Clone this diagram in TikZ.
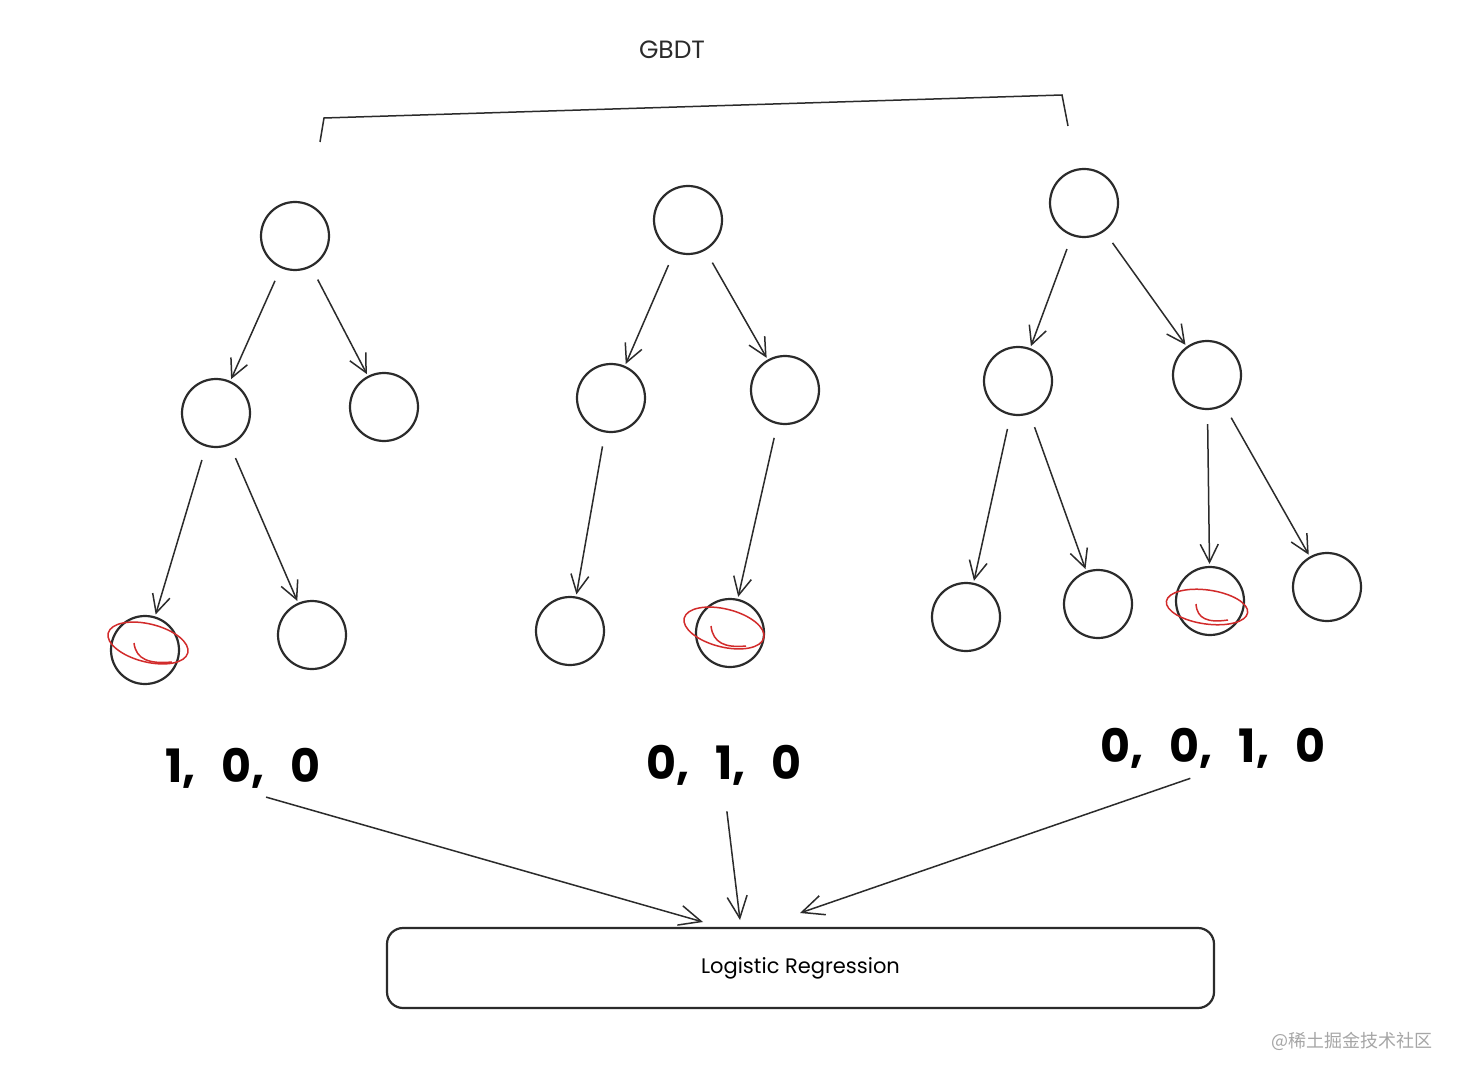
\documentclass[tikz,border=0pt]{standalone}
\usepackage{fontspec}
\newfontfamily\hand{Poppins}
\newfontfamily\cjk{Noto Sans CJK SC}
\usetikzlibrary{arrows.meta}
\definecolor{ink}{HTML}{2B2B2B}
\definecolor{mark}{HTML}{D22B2B}
\newcommand{\gapv}{,\hspace{8pt} }
\begin{document}
\begin{tikzpicture}[x=0.5pt,y=-0.5pt,
  tnode/.style={circle,draw=ink,line width=1.1pt,minimum size=34pt,inner sep=0pt},
  edge/.style={draw=ink,line width=0.75pt,-{Straight Barb[length=9pt,width=9pt]},shorten <=7pt,shorten >=1pt},
  bigedge/.style={draw=ink,line width=0.75pt,-{Straight Barb[length=11pt,width=10pt]},shorten <=12pt},
  pick/.style={draw=mark,line width=0.75pt},
  vec/.style={font=\hand\bfseries\fontsize{23}{26}\selectfont,text=black,inner sep=1pt},
  lbl/.style={font=\hand\fontsize{10.5}{12}\selectfont,text=black}]
\useasboundingbox[fill=white] (0,0) rectangle (1460,1080);

% title and bracket
\node[font=\hand\fontsize{12.5}{14}\selectfont,text=ink] (title) at (672,50) {GBDT};
\coordinate (bl) at (320,142);
\coordinate (tl) at (324,118);
\coordinate (tr) at (1062,95);
\coordinate (br) at (1068,126);
\draw[ink,line width=0.75pt] (bl) -- (tl) -- (tr) -- (br);

% tree 1
\node[tnode] (a0) at (295,236) {};
\node[tnode] (a1) at (216,413) {};
\node[tnode] (a2) at (384,407) {};
\node[tnode] (a3) at (145,650) {};
\node[tnode] (a4) at (312,635) {};
\draw[edge] (a0) -- (a1);
\draw[edge] (a0) -- (a2);
\draw[edge] (a1) -- (a3);
\draw[edge] (a1) -- (a4);

% tree 2
\node[tnode] (b0) at (688,220) {};
\node[tnode] (b1) at (611,398) {};
\node[tnode] (b2) at (785,390) {};
\node[tnode] (b3) at (570,631) {};
\node[tnode] (b4) at (730,633) {};
\draw[edge] (b0) -- (b1);
\draw[edge] (b0) -- (b2);
\draw[edge] (b1) -- (b3);
\draw[edge] (b2) -- (b4);

% tree 3
\node[tnode] (c0) at (1084,203) {};
\node[tnode] (c1) at (1018,381) {};
\node[tnode] (c2) at (1207,375) {};
\node[tnode] (c3) at (966,617) {};
\node[tnode] (c4) at (1098,604) {};
\node[tnode] (c5) at (1210,601) {};
\node[tnode] (c6) at (1327,587) {};
\draw[edge] (c0) -- (c1);
\draw[edge] (c0) -- (c2);
\draw[edge] (c1) -- (c3);
\draw[edge] (c1) -- (c4);
\draw[edge] (c2) -- (c5);
\draw[edge] (c2) -- (c6);

% red marks on the selected leaves
\draw[pick] (148,643) ellipse [x radius=41, y radius=19, rotate=-14];
\draw[pick] (134,643) .. controls (136,660) and (150,664) .. (172,662);
\draw[pick] (724,628) ellipse [x radius=41, y radius=19, rotate=-14];
\draw[pick] (711,626) .. controls (713,643) and (725,648) .. (746,646);
\draw[pick] (1207,607) ellipse [x radius=41, y radius=17, rotate=-8];
\draw[pick] (1196,604) .. controls (1197,619) and (1208,623) .. (1228,620);

% one-hot vectors
\node[vec] (v1) at (243,768) {1\gapv 0\gapv 0};
\node[vec] (v2) at (724,765) {0\gapv 1\gapv 0};
\node[vec] (v3) at (1213,748) {0\gapv 0\gapv 1\gapv 0};

% logistic regression box
\node[draw=ink,line width=1.1pt,rounded corners=8pt,minimum width=413.5pt,minimum height=40pt,inner sep=0pt,lbl]
  (lr) at (800.5,968) {Logistic Regression};
\coordinate (in1) at (703,922);
\coordinate (in2) at (740,920);
\coordinate (in3) at (800,913);
\draw[bigedge] (v1.south) -- (in1);
\draw[bigedge] (v2.south) -- (in2);
\draw[bigedge] (v3.south) -- (in3);

% watermark
\node[font=\cjk\fontsize{9}{11}\selectfont,text=black!35] (wm) at (1352,1041) {@稀土掘金技术社区};
\end{tikzpicture}
\end{document}
